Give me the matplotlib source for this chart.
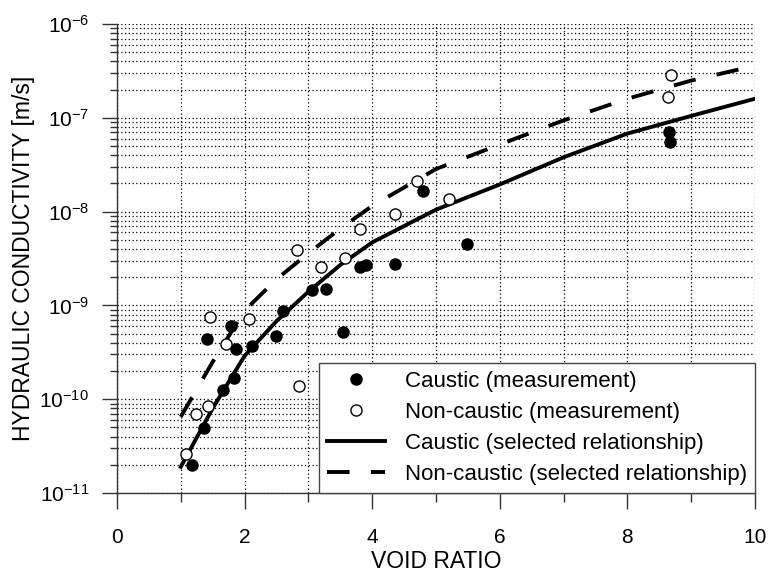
import numpy as np
import matplotlib
matplotlib.use("Agg")
import matplotlib.pyplot as plt
from matplotlib.ticker import MultipleLocator, LogLocator, FuncFormatter, NullFormatter

plt.rcParams['font.family'] = ['Liberation Sans', 'DejaVu Sans']
plt.rcParams['mathtext.default'] = 'regular'

# measured values (void ratio, hydraulic conductivity m/s)
caustic_e = [1.17, 1.36, 1.41, 1.66, 1.79, 1.84, 1.86, 2.12, 2.49, 2.60,
             3.05, 3.27, 3.54, 3.81, 3.90, 4.36, 4.80, 5.48, 8.65, 8.67]
caustic_k = [2.0e-11, 4.9e-11, 4.4e-10, 1.26e-10, 6.1e-10, 1.7e-10, 3.4e-10, 3.7e-10, 4.7e-10, 8.8e-10,
             1.45e-9, 1.5e-9, 5.2e-10, 2.6e-9, 2.7e-9, 2.8e-9, 1.65e-8, 4.5e-9, 7.0e-8, 5.5e-8]

noncaustic_e = [1.08, 1.24, 1.43, 1.46, 1.71, 2.07, 2.82, 2.86, 3.20, 3.57,
                3.81, 4.36, 4.71, 5.21, 8.64, 8.68]
noncaustic_k = [2.6e-11, 7.0e-11, 8.4e-11, 7.6e-10, 3.9e-10, 7.2e-10, 3.9e-9, 1.4e-10, 2.6e-9, 3.2e-9,
                6.6e-9, 9.5e-9, 2.1e-8, 1.35e-8, 1.65e-7, 2.85e-7]

# selected relationships
caustic_fit_e = [1.0, 1.5, 2.0, 2.5, 3.0, 3.5, 4.0, 5.0, 6.0, 7.0, 8.0, 9.0, 10.0]
caustic_fit_k = [1.9e-11, 8.0e-11, 2.9e-10, 6.8e-10, 1.4e-9, 2.7e-9, 4.7e-9, 1.05e-8,
                 1.95e-8, 3.8e-8, 6.8e-8, 1.05e-7, 1.6e-7]

noncaustic_fit_e = [1.0, 1.5, 2.0, 2.5, 3.0, 3.5, 4.0, 5.0, 6.0, 7.0, 8.0, 9.0, 10.0]
noncaustic_fit_k = [6.5e-11, 2.5e-10, 8.8e-10, 1.9e-9, 3.6e-9, 6.6e-9, 1.15e-8, 2.85e-8,
                    5.2e-8, 9.4e-8, 1.6e-7, 2.5e-7, 3.6e-7]

fig = plt.figure(figsize=(7.68, 5.74), dpi=100)
ax = fig.add_axes([0.1523, 0.1411, 0.8307, 0.8169])

ax.plot(caustic_e, caustic_k, 'o', color='black', markersize=8, zorder=5,
        label='Caustic (measurement)')
ax.plot(noncaustic_e, noncaustic_k, 'o', markerfacecolor='white', markeredgecolor='black',
        markeredgewidth=1.0, markersize=8, zorder=5, label='Non-caustic (measurement)')
ax.plot(caustic_fit_e, caustic_fit_k, '-', color='black', lw=2.8, zorder=4,
        label='Caustic (selected relationship)')
ax.plot(noncaustic_fit_e, noncaustic_fit_k, color='black', lw=2.8, dashes=(5.8, 5.5),
        dash_capstyle='butt', zorder=4, label='Non-caustic (selected relationship)')

ax.set_yscale('log')
ax.set_xlim(0, 10)
ax.set_ylim(1e-11, 1e-6)

ax.xaxis.set_major_locator(MultipleLocator(2))
ax.xaxis.set_minor_locator(MultipleLocator(1))
ax.yaxis.set_major_locator(LogLocator(base=10))
ax.yaxis.set_minor_locator(LogLocator(base=10, subs=np.arange(2, 10)))
ax.yaxis.set_minor_formatter(NullFormatter())
ax.yaxis.set_major_formatter(FuncFormatter(lambda v, p: r'$10^{%d}$' % round(np.log10(v))))

ax.grid(True, which='both', color='black', lw=0.9, linestyle=(0, (1, 2)), zorder=1)
ax.set_axisbelow(True)

for side in ['top', 'right']:
    ax.spines[side].set_visible(False)
for side in ['left', 'bottom']:
    ax.spines[side].set_color('#333333')
    ax.spines[side].set_linewidth(1.0)

ax.tick_params(axis='x', which='major', direction='out', length=11.5, width=1.0,
               color='#333333', labelsize=15, pad=14)
ax.tick_params(axis='x', which='minor', direction='out', length=6.5, width=1.0, color='#333333')
ax.tick_params(axis='y', which='major', direction='out', length=11, width=1.0,
               color='#333333', labelsize=15, pad=9)
ax.tick_params(axis='y', which='minor', direction='out', length=5, width=1.0, color='#333333')

ax.set_xlabel('VOID RATIO', fontsize=16.5, labelpad=2)
ax.set_ylabel('HYDRAULIC CONDUCTIVITY [m/s]', fontsize=16.5, labelpad=3)

leg = ax.legend(loc='lower right', bbox_to_anchor=(1.0, 0.0), borderaxespad=0,
                fontsize=16, frameon=True, fancybox=False, framealpha=1,
                edgecolor='#444444', handlelength=2.6, handletextpad=0.9,
                labelspacing=0.45, borderpad=0.35)
leg.get_frame().set_linewidth(1.0)
leg.set_zorder(10)

fig.savefig('out.png', dpi=100)
